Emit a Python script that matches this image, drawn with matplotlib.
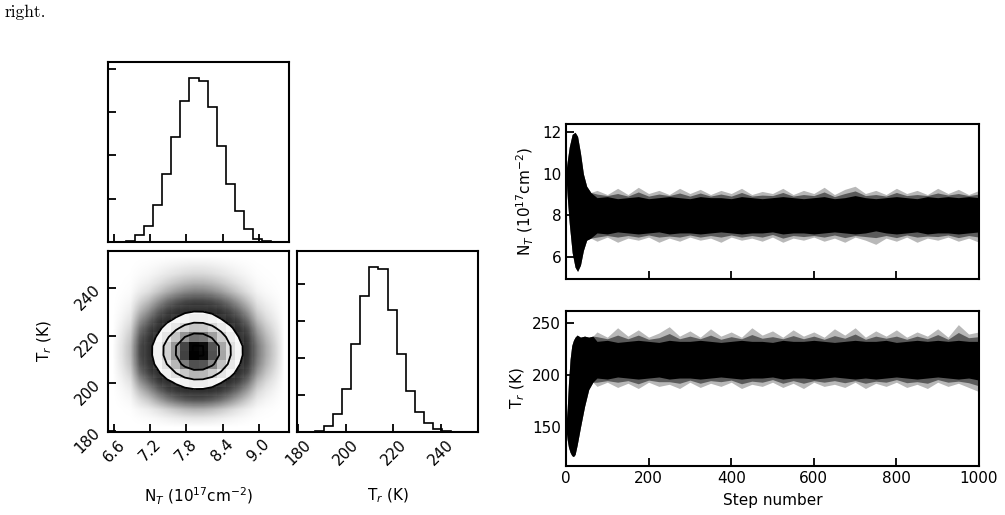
import numpy as np
import matplotlib
matplotlib.use("Agg")
import matplotlib.pyplot as plt
from matplotlib.colors import LinearSegmentedColormap

plt.rcParams["axes.linewidth"] = 1.5
plt.rcParams["font.size"] = 11

# corner plot ranges and marginal histograms (20 bins, in units of the y tick spacing)
nt_range = (6.5, 9.5)
tr_range = (179.5, 255.5)
nt_hist = [0.0, 0.005, 0.02, 0.17, 0.38, 0.85, 1.58, 2.42, 3.26, 3.78,
           3.72, 3.12, 2.22, 1.35, 0.71, 0.31, 0.08, 0.03, 0.01, 0.0]
tr_hist = [0.0, 0.005, 0.03, 0.17, 0.49, 1.17, 2.38, 3.69, 4.46, 4.42,
           3.32, 2.12, 1.12, 0.55, 0.24, 0.08, 0.03, 0.01, 0.003, 0.0]
nt_ticks = [6.6, 7.2, 7.8, 8.4, 9.0]
tr_ticks = [180, 200, 220, 240]
hist_yticks = [1, 2, 3, 4]

# walker traces: envelope of the chains (burn-in, then every 25 steps)
nt_burn_steps = [0, 3, 8, 15, 22, 28, 35, 42, 50, 60]
nt_burn_hi = [10.1, 10.6, 11.3, 11.9, 12.0, 11.8, 11.0, 10.0, 9.4, 9.1]
nt_burn_lo = [9.9, 8.9, 7.6, 6.2, 5.5, 5.3, 5.6, 6.3, 6.8, 6.9]
nt_outer_hi = [9.2, 9.0, 9.3, 9.0, 9.35, 9.05, 9.2, 9.0, 9.3, 9.05,
               9.25, 9.0, 9.2, 9.05, 9.3, 9.0, 9.15, 9.05, 9.3, 9.0,
               9.2, 9.05, 9.35, 9.0, 9.25, 9.4, 9.05, 9.2, 9.0, 9.3,
               9.05, 9.2, 9.0, 9.3, 9.05, 9.25, 9.0, 9.2]
nt_outer_lo = [6.75, 6.95, 6.7, 6.9, 6.8, 6.95, 6.7, 6.9, 6.75, 6.95,
               6.8, 6.9, 6.7, 6.95, 6.8, 6.9, 6.75, 6.95, 6.7, 6.9,
               6.8, 6.95, 6.75, 6.9, 6.7, 6.95, 6.8, 6.6, 6.9, 6.75,
               6.95, 6.7, 6.9, 6.8, 6.95, 6.75, 6.9, 6.7]
nt_core_hi = [8.85, 8.9, 8.8, 8.85, 8.9, 8.8, 8.85, 8.9, 8.85, 8.8,
              8.9, 8.85, 8.85, 8.8, 8.9, 8.85, 8.8, 8.85, 8.9, 8.85,
              8.8, 8.85, 8.9, 8.8, 8.85, 8.95, 8.85, 8.8, 8.85, 8.9,
              8.85, 8.8, 8.9, 8.85, 8.9, 8.85, 8.9, 8.85]
nt_core_lo = [7.15, 7.1, 7.2, 7.15, 7.1, 7.15, 7.2, 7.1, 7.15, 7.15,
              7.1, 7.15, 7.2, 7.15, 7.1, 7.15, 7.15, 7.2, 7.1, 7.15,
              7.15, 7.1, 7.15, 7.2, 7.15, 7.1, 7.15, 7.25, 7.15, 7.1,
              7.15, 7.2, 7.1, 7.15, 7.15, 7.1, 7.15, 7.2]

tr_burn_steps = [0, 3, 6, 10, 14, 18, 22, 27, 35, 45, 55, 65]
tr_burn_hi = [152, 168, 192, 215, 228, 233, 236, 238, 236, 237, 236, 237]
tr_burn_lo = [148, 138, 131, 126, 123, 122, 124, 133, 150, 170, 186, 193]
tr_outer_hi = [241, 236, 245, 237, 243, 236, 240, 246, 237, 242,
               236, 244, 237, 241, 236, 245, 238, 242, 236, 243,
               237, 241, 236, 244, 238, 245, 236, 242, 237, 243,
               236, 241, 237, 244, 236, 248, 239, 241]
tr_outer_lo = [189, 193, 188, 192, 187, 193, 189, 191, 187, 193,
               188, 192, 189, 193, 187, 191, 189, 193, 188, 192,
               187, 193, 189, 191, 188, 193, 187, 192, 189, 193,
               188, 191, 187, 193, 189, 192, 188, 184]
tr_core_hi = [232, 233, 231, 232, 233, 232, 231, 233, 232, 232,
              233, 232, 231, 232, 233, 232, 232, 231, 233, 232,
              232, 233, 232, 231, 232, 233, 232, 232, 233, 231,
              232, 233, 232, 233, 232, 233, 232, 232]
tr_core_lo = [197, 196, 198, 197, 196, 197, 198, 196, 197, 197,
              196, 197, 198, 197, 196, 197, 197, 198, 196, 197,
              197, 196, 197, 198, 197, 196, 197, 196, 197, 198,
              197, 196, 197, 198, 197, 196, 197, 195]
steady_steps = list(range(75, 1001, 25))

nt_label = r"N$_T$ (10$^{17}$cm$^{-2}$)"
tr_label = r"T$_r$ (K)"

W, H = 1005, 515
fig = plt.figure(figsize=(W / 100, H / 100), dpi=100)


def px_axes(x0, y0, x1, y1):
    return fig.add_axes([x0 / W, 1 - y1 / H, (x1 - x0) / W, (y1 - y0) / H])


def style(ax):
    ax.tick_params(direction="in", length=6, width=1.3)


fig.text(5 / W, 1 - 17 / H, "right.", family="cmr10", fontsize=12.5, va="baseline")

# ---- corner plot ----
nt_edges = np.linspace(*nt_range, len(nt_hist) + 1)
tr_edges = np.linspace(*tr_range, len(tr_hist) + 1)
nt_c = 0.5 * (nt_edges[1:] + nt_edges[:-1])
tr_c = 0.5 * (tr_edges[1:] + tr_edges[:-1])

ax1 = px_axes(108, 62, 289, 242)
ax1.stairs(nt_hist, nt_edges, color="k", lw=1.2)
ax1.set_xlim(*nt_range)
ax1.set_ylim(0, 1.1 * max(nt_hist))
ax1.set_xticks(nt_ticks)
ax1.set_yticks(hist_yticks)
ax1.set_xticklabels([])
ax1.set_yticklabels([])
style(ax1)

ax3 = px_axes(297, 251, 478, 432)
ax3.stairs(tr_hist, tr_edges, color="k", lw=1.2)
ax3.set_xlim(*tr_range)
ax3.set_ylim(0, 1.1 * max(tr_hist))
ax3.set_xticks(tr_ticks)
ax3.set_yticks(hist_yticks)
ax3.set_yticklabels([])
for lab in ax3.get_xticklabels():
    lab.set_rotation(45)
ax3.set_xlabel(tr_label)
ax3.xaxis.set_label_coords(0.5, -0.3)
style(ax3)

ax2 = px_axes(108, 251, 289, 432)
H2 = np.outer(tr_hist, nt_hist)
h = H2 / H2.max()
# the data-point cloud, drawn as a shaded density image
cloud = np.clip(1 - np.exp(-12.2 * h ** 0.7), 0, 1)
cloud_cmap = LinearSegmentedColormap.from_list("cloud", ["white", "#0a0a0a"])
ax2.imshow(cloud, extent=[*nt_range, *tr_range], origin="lower", aspect="auto",
           cmap=cloud_cmap, vmin=0, vmax=1, interpolation="bilinear")

levels = 1.0 - np.exp(-0.5 * np.arange(0.5, 2.1, 0.5) ** 2)
Hflat = H2.flatten()
order = np.argsort(Hflat)[::-1]
cum = np.cumsum(Hflat[order])
cum /= cum[-1]
V = np.array([Hflat[order][cum <= lv][-1] for lv in levels])
V.sort()

ax2.contourf(nt_c, tr_c, H2, [V.min(), H2.max()], colors="white", antialiased=False)
dens_cmap = LinearSegmentedColormap.from_list("dens", [(0, 0, 0, 1), (1, 1, 1, 0)])
ax2.pcolormesh(nt_edges, tr_edges, H2.max() - H2, cmap=dens_cmap)
ax2.contour(nt_c, tr_c, H2, V, colors="k", linewidths=1.3)
ax2.set_xlim(*nt_range)
ax2.set_ylim(*tr_range)
ax2.set_xticks(nt_ticks)
ax2.set_yticks(tr_ticks)
ax2.set_xticklabels([f"{v:.1f}" for v in nt_ticks], rotation=45)
ax2.set_yticklabels([str(v) for v in tr_ticks], rotation=45)
ax2.set_xlabel(nt_label)
ax2.set_ylabel(tr_label)
ax2.xaxis.set_label_coords(0.5, -0.3)
ax2.yaxis.set_label_coords(-0.3, 0.5)
style(ax2)


# ---- walker traces ----
def trace(ax, bsteps, bhi, blo, ohi, olo, chi, clo):
    steps = np.array(bsteps + steady_steps)
    ohi = np.array(bhi + ohi)
    olo = np.array(blo + olo)
    chi = np.array(bhi + chi)
    clo = np.array(blo + clo)
    ax.fill_between(steps, olo, ohi, color="k", alpha=0.28, lw=0)
    ax.fill_between(steps, (olo + clo) / 2, (ohi + chi) / 2, color="k", alpha=0.5, lw=0)
    ax.fill_between(steps, clo, chi, color="k", lw=0)
    ax.set_xlim(0, 1000)
    ax.set_xticks(range(0, 1001, 200))
    style(ax)


ax4 = px_axes(566, 124, 979, 279)
trace(ax4, nt_burn_steps, nt_burn_hi, nt_burn_lo,
      nt_outer_hi, nt_outer_lo, nt_core_hi, nt_core_lo)
ax4.set_ylim(4.93, 12.4)
ax4.set_yticks([6, 8, 10, 12])
ax4.set_xticklabels([])
ax4.set_ylabel(nt_label)

ax5 = px_axes(566, 311, 979, 466)
trace(ax5, tr_burn_steps, tr_burn_hi, tr_burn_lo,
      tr_outer_hi, tr_outer_lo, tr_core_hi, tr_core_lo)
ax5.set_ylim(113, 261)
ax5.set_yticks([150, 200, 250])
ax5.set_xlabel("Step number", labelpad=5)
ax5.set_ylabel(tr_label)

fig.savefig("out.png", dpi=100)
